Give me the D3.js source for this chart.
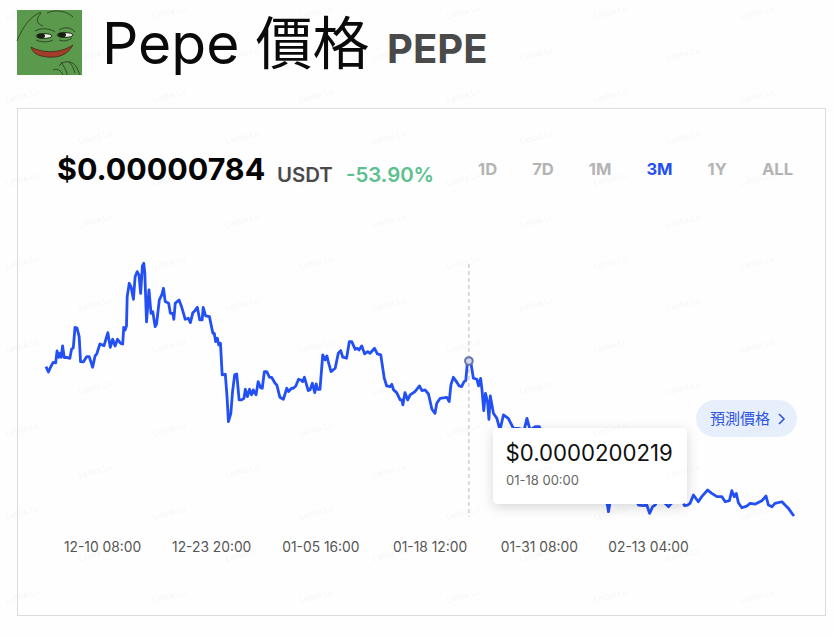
<!DOCTYPE html>
<html>
<head>
<meta charset="utf-8">
<style>
  html, body { margin: 0; padding: 0; background: #fefefe; }
  svg { display: block; }
  text { font-family: Inter, "Noto Sans CJK TC", sans-serif; }
</style>
</head>
<body>
<svg id="chart" width="834" height="636"></svg>
<script src="https://d3js.org/d3.v7.min.js"></script>
<script>
// hours since the start of the 3M window
const hours = [0,7,14,21,28,32,37,41,44,48,53,60,69,74,79,84,90,96,100,108,118,125,135,142,147,156,168,179,186,193,200,207,216,222,225,229,233,235,241,246,253,258,264,269,274,279,283,286,291,298,304,309,316,320,328,335,340,345,355,360,367,370,374,385,393,403,412,418,425,431,438,445,452,455,462,473,483,487,491,496,500,505,510,519,524,528,535,540,546,552,
  559,566,573,577,583,589,595,600,608,614,621,626,632,639,647,653,663,668,677,687,697,702,711,716,723,731,738,743,748,759,764,771,778,782,786,793,801,808,813,817,825,837,846,853,859,870,878,885,895,901,906,914,922,931,938,951,959,969,979,986,996,1001,1006,1015,1025,1030,1033,1039,1047,1054,1068,1081,1088,1097,1107,1117,1126,1131,1141,1160,1167,1172,1179,1186,1196,1203,1210,1215,1220,1229,1237,1247,1252,
  1258,1262,1267,1272,1278,1282,1286,1295,1305,1314,1324,1338,1353,1367,1377,1384,1392,1401,1416,1428,1436,1450,1465,1480,1495,1510,1525,1540,1555,1570,1585,1600,1612,1625,1628,1635,1650,1665,1680,1695,1710,1715,1729,1739,1747,1756,1763,1772,1785,1797,1802,1815,1830,1842,1848,1857,1864,1874,1888,1898,1915,1927,1942,1956,1966,1978,1985,1992,1998,2004,2014,2028,2038,2053,2072,2084,2091,2101,2110,2130,2139,2149,2159,2165];

// price in USDT x 1e-6
const prices = [19.58,19.16,19.58,19.92,19.87,20.81,20.31,20.63,20.31,21.20,20.29,20.31,20.23,20.94,21.07,22.67,22.59,21.94,19.97,19.95,20.37,20.37,19.53,20.42,20.58,21.36,21.23,22.25,21.10,21.73,21.20,21.73,21.41,21.36,22.67,22.46,22.78,25.08,26.13,25.87,24.87,26.65,27.05,26.79,25.34,27.49,27.70,26.92,23.09,25.61,23.77,23.90,22.72,22.93,24.82,25.21,25.74,24.69,24.56,23.77,23.77,23.30,24.56,24.82,24.24,23.30,23.38,23.04,23.82,23.98,24.24,23.25,23.25,24.24,23.56,23.51,22.20,22.20,21.55,21.81,21.28,21.41,18.93,18.98,17.22,15.26,15.91,17.62,18.93,19.00,
  16.96,16.96,17.09,17.80,17.22,17.80,17.36,17.75,17.36,18.40,17.93,17.88,19.19,19.19,18.74,18.74,18.27,18.14,17.17,17.01,17.88,17.62,17.88,17.88,18.06,18.59,18.53,18.40,18.74,17.70,17.75,18.27,17.54,18.22,17.80,17.80,20.50,20.11,20.42,19.98,19.19,19.45,20.63,20.84,20.32,20.24,21.55,21.55,20.94,21.02,20.89,21.21,20.58,20.76,20.63,21.02,20.58,20.50,18.67,18.06,18.01,18.19,17.75,17.54,16.96,16.96,16.57,17.54,16.96,17.36,17.62,18.06,17.70,17.75,17.43,16.23,15.91,16.70,17.09,17.17,16.83,18.14,18.74,18.48,18.06,18.01,18.40,18.48,20.02,20.02,18.67,18.59,18.06,
  18.66,17.74,16.12,17.48,16.82,15.43,17.27,15.91,15.51,14.60,15.78,15.51,14.73,14.73,14.65,14.60,15.51,14.60,14.86,14.86,14.3,14.0,13.4,13.7,12.9,12.4,12.7,11.9,11.5,11.0,10.4,10.0,9.9,8.70,8.18,9.3,9.6,9.2,9.5,9.3,9.0,8.70,8.65,8.70,8.05,8.57,8.70,9.1,9.0,8.70,8.57,9.0,9.1,9.0,8.65,8.70,8.83,9.49,8.96,9.36,9.88,9.62,9.36,9.36,8.96,9.04,9.83,9.36,9.62,8.88,8.49,8.62,8.83,8.78,9.04,9.41,8.70,8.57,8.83,8.96,8.70,8.44,8.05,7.84];

const tickLabels = ['12-10 08:00','12-23 20:00','01-05 16:00','01-18 12:00','01-31 08:00','02-13 04:00'];
const ranges = ['1D','7D','1M','3M','1Y','ALL'];
const activeRange = '3M';

const hoverHour = 1224;
const hoverPrice = 20.0219;
const lastPrice = 7.84;

const svg = d3.select('#chart');

// card
svg.append('rect').attr('x', 17.5).attr('y', 108.5).attr('width', 808).attr('height', 507)
  .attr('fill', '#fefefe').attr('stroke', '#dcdcdc');

// logo
const logo = svg.append('g').attr('transform', 'translate(17,10)');
logo.append('rect').attr('width', 65).attr('height', 65).attr('fill', '#5b9a4d');
logo.append('path').attr('d', 'M14 37 C26 43 42 44 56 35 C50 46 40 48 30 47 C22 46 16 44 14 37 Z')
  .attr('fill', '#a33c28').attr('stroke', '#2a2a14').attr('stroke-width', 0.7);
logo.selectAll('.eye').data([[27, 26], [48, 25]]).enter().append('ellipse')
  .attr('cx', d => d[0]).attr('cy', d => d[1]).attr('rx', 8).attr('ry', 2.4)
  .attr('fill', '#eef2e6').attr('stroke', '#1d2a14').attr('stroke-width', 1);
logo.selectAll('.pupil').data([[24, 26], [45, 25]]).enter().append('ellipse')
  .attr('cx', d => d[0]).attr('cy', d => d[1]).attr('rx', 4).attr('ry', 2.4).attr('fill', '#16200e');
logo.append('path')
  .attr('d', 'M0 31 C6 16 14 6 24 2 M24 3 C18 10 20 14 26 16 M30 3 C38 -1 50 1 56 7 M18 21 C26 17 34 19 38 22 M42 20 C48 16 55 18 58 22 M19 30 C26 33 32 32 36 30 M42 30 C48 32 52 30 55 28 M42 56 C46 50 56 50 60 58 C62 62 62 64 63 65 M44 52 C48 58 50 62 50 65 M36 60 C40 58 44 60 46 65 M52 52 C56 56 57 60 58 63')
  .attr('fill', 'none').attr('stroke', '#24361a').attr('stroke-width', 0.8);

// header
svg.append('text').attr('x', 102).attr('y', 64).attr('font-size', 57).attr('fill', '#0a0a0a').text('Pepe 價格');
svg.append('text').attr('x', 387).attr('y', 63).attr('font-size', 40).attr('font-weight', 700).attr('fill', '#4a4a4a').text('PEPE');
svg.append('text').attr('x', 57).attr('y', 180).attr('font-size', 30.4).attr('font-weight', 700).attr('fill', '#050505').text('$0.00000784');
svg.append('text').attr('x', 277).attr('y', 182).attr('font-size', 20.4).attr('font-weight', 600).attr('fill', '#4a4a4a').text('USDT');
svg.append('text').attr('x', 346).attr('y', 182).attr('font-size', 20.4).attr('font-weight', 600).attr('fill', '#5cc08f').text('-53.90%');

// range buttons, laid out with an even gap like the flex row they come from
let rangeLeft = 478;
svg.selectAll('.range').data(ranges).enter().append('text')
  .attr('class', 'range')
  .attr('y', 175)
  .attr('font-size', 16.6).attr('font-weight', 700)
  .attr('fill', d => d === activeRange ? '#2450f0' : '#b4b4b4')
  .text(d => d)
  .each(function () {
    d3.select(this).attr('x', rangeLeft);
    rangeLeft += this.getComputedTextLength() + 35;
  });

// scales
const x = d3.scaleLinear().domain([0, 2165]).range([46, 794]);
const y = d3.scaleLinear().domain([lastPrice, hoverPrice]).range([516, 361]);

// dashed hover line
svg.append('line')
  .attr('x1', x(hoverHour)).attr('x2', x(hoverHour)).attr('y1', 264).attr('y2', 517)
  .attr('stroke', '#cfcfd6').attr('stroke-width', 1.5).attr('stroke-dasharray', '4 3');

const line = d3.line().x((d, i) => x(hours[i])).y(d => y(d));
svg.append('path').datum(prices)
  .attr('d', line).attr('fill', 'none')
  .attr('stroke', '#2350f5').attr('stroke-width', 2.8).attr('stroke-linejoin', 'round');

svg.append('circle').attr('cx', x(hoverHour)).attr('cy', y(hoverPrice)).attr('r', 3.8)
  .attr('fill', '#d6d9e8').attr('stroke', '#6472ad').attr('stroke-width', 2);

// x axis
const tickX = d3.scalePoint().domain(tickLabels).range([102, 648]);
const axis = svg.append('g').attr('transform', 'translate(0,537)')
  .call(d3.axisBottom(tickX).tickSize(0).tickPadding(5));
axis.select('.domain').remove();
axis.selectAll('text').attr('font-size', 13.8).attr('fill', '#555')
  .attr('font-family', 'Inter, sans-serif');

// predict button
svg.append('rect').attr('x', 696).attr('y', 400).attr('width', 101).attr('height', 37).attr('rx', 18.5)
  .attr('fill', '#e8effc');
svg.append('text').attr('x', 710).attr('y', 424).attr('font-size', 15).attr('fill', '#2f55e0').text('預測價格');
svg.append('path').attr('d', 'M779 414 L784 419 L779 424').attr('fill', 'none')
  .attr('stroke', '#2f55e0').attr('stroke-width', 1.6);

// tooltip
const defs = svg.append('defs');
const shadow = defs.append('filter').attr('id', 'shadow')
  .attr('x', '-20%').attr('y', '-30%').attr('width', '140%').attr('height', '170%');
shadow.append('feDropShadow').attr('dx', 0).attr('dy', 3).attr('stdDeviation', 6)
  .attr('flood-color', '#000').attr('flood-opacity', 0.16);
svg.append('rect').attr('x', 493).attr('y', 428).attr('width', 194).attr('height', 76).attr('rx', 5)
  .attr('fill', '#fff').attr('filter', 'url(#shadow)');
svg.append('text').attr('x', 505.5).attr('y', 461).attr('font-size', 22.2).attr('fill', '#111').text('$0.0000200219');
svg.append('text').attr('x', 506).attr('y', 485).attr('font-size', 13).attr('fill', '#666').text('01-18 00:00');

// watermark
d3.range(0, 15).forEach(r => d3.range(0, 6).forEach(c => {
  const wx = (r % 2 ? 96 : 23) + 147 * c, wy = 15 + 41.7 * r;
  if (wx > 810) return;
  svg.append('text').attr('transform', 'translate(' + wx + ',' + wy + ') rotate(-15)')
    .attr('font-size', 8).attr('text-anchor', 'middle').attr('fill', '#000').attr('opacity', 0.035)
    .text('Letitia.Lu');
}));
</script>
</body>
</html>
